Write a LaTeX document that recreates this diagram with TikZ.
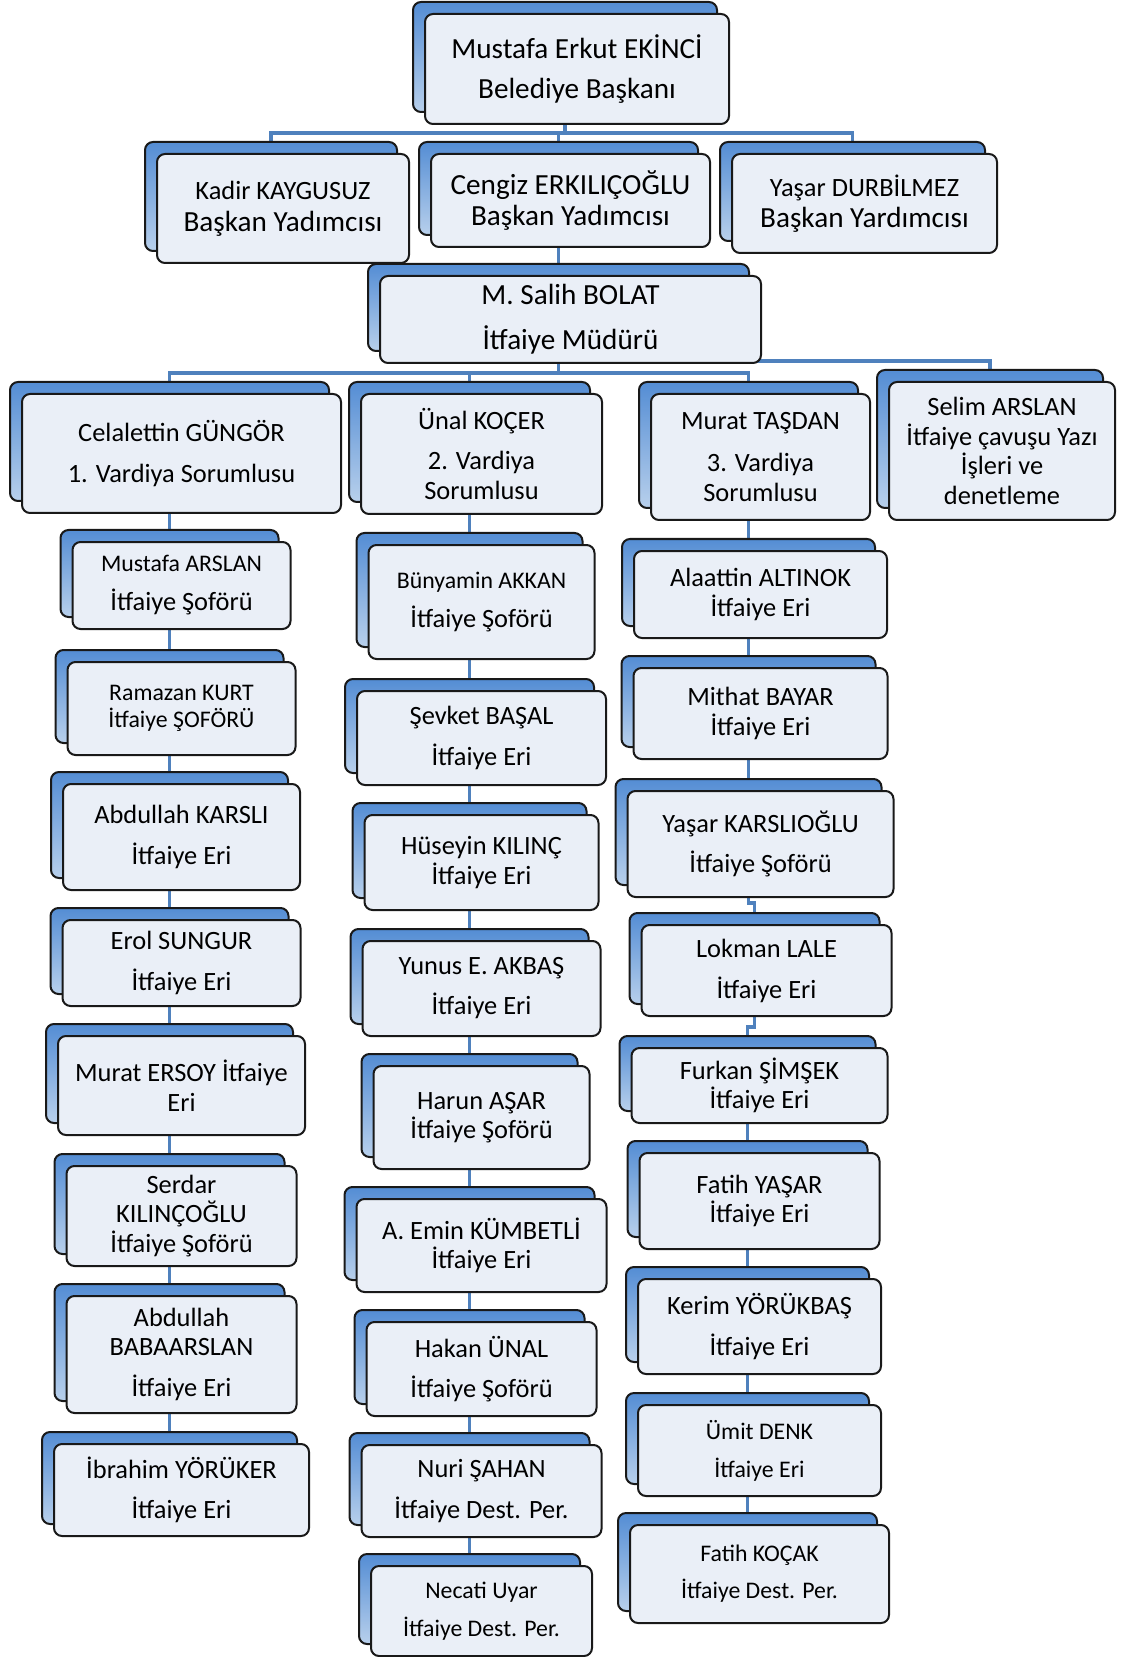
\documentclass[tikz,border=0pt]{standalone}
\usepackage{fontspec}
\setmainfont{Carlito}
\usetikzlibrary{positioning,shadows,backgrounds}
\definecolor{linkblue}{RGB}{79,129,189}
\definecolor{cardfill}{RGB}{234,239,247}
\definecolor{cardedge}{RGB}{25,25,25}
\definecolor{backtop}{RGB}{84,141,212}
\definecolor{backbot}{RGB}{184,208,236}
\newcommand{\fsbig}{\fontsize{14.6}{15.8}\selectfont}
\newcommand{\fsmid}{\fontsize{13.2}{14.8}\selectfont}
\newcommand{\fssmall}{\fontsize{11.9}{13.6}\selectfont}
\tikzset{
	card/.style = {rectangle,rounded corners=4pt,draw=cardedge,line width=1pt,
		fill=cardfill,align=center,inner sep=0pt,outer sep=0pt,font=\fsmid,
		general shadow={shadow xshift=-6pt,shadow yshift=6pt,draw=cardedge,
			line width=1pt,top color=backtop,bottom color=backbot}},
	link/.style = {linkblue,line width=1.75pt},
}

\begin{document}
\begin{tikzpicture}[x=0.5pt,y=-0.5pt]
	\useasboundingbox (0,0) rectangle (1124,1657);
	%% Baskan ve yardimcilar
	\node (mayor)  [card,font=\fsbig,minimum width=152pt,minimum height=55pt] at (577,69)
	{Mustafa Erkut EKİNCİ\\[4.2pt]Belediye Başkanı};
	\node (kadir)  [card,font=\fsbig,minimum width=126pt,minimum height=54.5pt] at (283,208.5)
	{{\fsmid Kadir KAYGUSUZ}\\Başkan Yadımcısı};
	\node (cengiz) [card,font=\fsbig,minimum width=139.5pt,minimum height=46.5pt] at (570.5,200.5)
	{Cengiz ERKILIÇOĞLU\\Başkan Yadımcısı};
	\node (yasard) [card,font=\fsbig,minimum width=132.5pt,minimum height=49.5pt] at (864.5,203.5)
	{{\fsmid Yaşar DURBİLMEZ}\\Başkan Yardımcısı};
	\node (salih)  [card,font=\fsbig,minimum width=190.5pt,minimum height=43.5pt] at (570.5,319.5)
	{M. Salih BOLAT\\[6.7pt]İtfaiye Müdürü};
	
	%% Vardiyalar
	\node (celal) [card,minimum width=159.5pt,minimum height=59.5pt] at (181.5,453.5)
	{Celalettin GÜNGÖR\\[5.7pt]1. Vardiya Sorumlusu};
	\node (unal)  [card,minimum width=120.5pt,minimum height=60pt] at (481.5,454)
	{Ünal KOÇER\\[5.2pt]2. Vardiya\\Sorumlusu};
	\node (murat) [card,minimum width=109.5pt,minimum height=63pt] at (760.5,457)
	{Murat TAŞDAN\\[6pt]3. Vardiya\\Sorumlusu};
	\node (selim) [card,minimum width=113pt,minimum height=69pt] at (1002,451)
	{Selim ARSLAN\\İtfaiye çavuşu Yazı\\İşleri ve\\denetleme};
	
	%% 1. vardiya
	\node (mustafaa)  [card,below=14.5pt of celal,minimum width=109pt,minimum height=43.5pt]
	{{\fssmall Mustafa ARSLAN}\\[4.7pt]İtfaiye Şoförü};
	\node (ramazan)   [card,font=\fssmall,below=16.5pt of mustafaa,minimum width=114pt,minimum height=46.5pt]
	{Ramazan KURT\\İtfaiye ŞOFÖRÜ};
	\node (abdullahk) [card,below=14.5pt of ramazan,minimum width=118.5pt,minimum height=53pt]
	{Abdullah KARSLI\\[5.7pt]İtfaiye Eri};
	\node (erol)      [card,below=15pt of abdullahk,minimum width=119pt,minimum height=43pt]
	{Erol SUNGUR\\[5.7pt]İtfaiye Eri};
	\node (murate)    [card,below=15pt of erol,minimum width=123.5pt,minimum height=49.5pt]
	{Murat ERSOY İtfaiye\\Eri};
	\node (serdar)    [card,below=15.5pt of murate,minimum width=115pt,minimum height=50pt]
	{Serdar\\KILINÇOĞLU\\İtfaiye Şoförü};
	\node (abdullahb) [card,below=15pt of serdar,minimum width=115pt,minimum height=58.5pt]
	{Abdullah\\BABAARSLAN\\[5.7pt]İtfaiye Eri};
	\node (ibrahim)   [card,below=15.5pt of abdullahb,minimum width=127.5pt,minimum height=46pt]
	{İbrahim YÖRÜKER\\[5pt]İtfaiye Eri};
	
	%% 2. vardiya
	\node (bunyamin) [card,below=15.5pt of unal,minimum width=113pt,minimum height=57pt]
	{{\fssmall Bünyamin AKKAN}\\[4.7pt]İtfaiye Şoförü};
	\node (sevket)   [card,below=16pt of bunyamin,minimum width=124.5pt,minimum height=47pt]
	{Şevket BAŞAL\\[5.7pt]İtfaiye Eri};
	\node (huseyin)  [card,below=15pt of sevket,minimum width=117pt,minimum height=47.5pt]
	{Hüseyin KILINÇ\\İtfaiye Eri};
	\node (yunus)    [card,below=15.5pt of huseyin,minimum width=119pt,minimum height=47.5pt]
	{Yunus E. AKBAŞ\\[5.2pt]İtfaiye Eri};
	\node (harun)    [card,below=15pt of yunus,minimum width=108pt,minimum height=51.5pt]
	{Harun AŞAR\\İtfaiye Şoförü};
	\node (emin)     [card,below=15pt of harun,minimum width=125pt,minimum height=46.5pt]
	{A. Emin KÜMBETLİ\\İtfaiye Eri};
	\node (hakan)    [card,below=15pt of emin,minimum width=115pt,minimum height=47pt]
	{Hakan ÜNAL\\[5.2pt]İtfaiye Şoförü};
	\node (nuri)     [card,below=14.5pt of hakan,minimum width=120pt,minimum height=46pt]
	{Nuri ŞAHAN\\[5.7pt]İtfaiye Dest. Per.};
	\node (necati)   [card,font=\fssmall,below=14.5pt of nuri,minimum width=110.5pt,minimum height=45pt]
	{Necati Uyar\\[5.4pt]İtfaiye Dest. Per.};
	
	%% 3. vardiya
	\node (alaattin) [card,below=15.5pt of murat,minimum width=126.5pt,minimum height=43.5pt]
	{Alaattin ALTINOK\\İtfaiye Eri};
	\node (mithat)   [card,below=15pt of alaattin,minimum width=127pt,minimum height=45.5pt]
	{Mithat BAYAR\\İtfaiye Eri};
	\node (yasark)   [card,below=16pt of mithat,minimum width=133pt,minimum height=53pt]
	{Yaşar KARSLIOĞLU\\[5.2pt]İtfaiye Şoförü};
	\node (lokman)   [card,below=14pt of yasark,xshift=3pt,minimum width=125pt,minimum height=45.5pt]
	{Lokman LALE\\[5.7pt]İtfaiye Eri};
	\node (furkan)   [card,below=16pt of lokman,xshift=-3.5pt,minimum width=128pt,minimum height=37.5pt]
	{Furkan ŞİMŞEK\\İtfaiye Eri};
	\node (fatihy)   [card,below=15pt of furkan,minimum width=120pt,minimum height=48pt]
	{Fatih YAŞAR\\İtfaiye Eri};
	\node (kerim)    [card,below=15pt of fatihy,minimum width=121.5pt,minimum height=47.5pt]
	{Kerim YÖRÜKBAŞ\\[5.7pt]İtfaiye Eri};
	\node (umit)     [card,font=\fssmall,below=15.5pt of kerim,minimum width=121.5pt,minimum height=45.5pt]
	{Ümit DENK\\[5.4pt]İtfaiye Eri};
	\node (fatihk)   [card,font=\fssmall,below=14.5pt of umit,minimum width=129.5pt,minimum height=49pt]
	{Fatih KOÇAK\\[5pt]İtfaiye Dest. Per.};
	
	%% Baglantilar
	\begin{scope}[on background layer]
		\draw[link]([xshift=-6pt]mayor.center)--([xshift=-6pt,yshift=-4.5pt]mayor.south) coordinate (topbus);
		\foreach \s in {kadir,cengiz,yasard} \draw[link](topbus)-|([xshift=-6pt]\s.center);
		\draw[link]([xshift=-6pt]cengiz.center)--([xshift=-6pt]salih.center);
		\draw[link]([xshift=-6pt]salih.center)--([xshift=-6pt,yshift=-5pt]salih.south) coordinate (shiftbus);
		\foreach \s in {celal,unal,murat} \draw[link](shiftbus)-|([xshift=-6pt]\s.center);
		\draw[link]([yshift=1pt]salih.south)-|([xshift=-6pt]selim.center);
		\foreach \a/\b in {celal/mustafaa,mustafaa/ramazan,ramazan/abdullahk,abdullahk/erol,
			erol/murate,murate/serdar,serdar/abdullahb,abdullahb/ibrahim,
			unal/bunyamin,bunyamin/sevket,sevket/huseyin,huseyin/yunus,yunus/harun,
			harun/emin,emin/hakan,hakan/nuri,nuri/necati,
			murat/alaattin,alaattin/mithat,mithat/yasark,
			furkan/fatihy,fatihy/kerim,kerim/umit,umit/fatihk}
		\draw[link]([xshift=-6pt]\a.center)--([xshift=-6pt]\b.center);
		\draw[link]([xshift=-6pt]yasark.center)--([xshift=-6pt,yshift=-3pt]yasark.south)-|([xshift=-6pt]lokman.center);
		\draw[link]([xshift=-6pt]lokman.center)--([xshift=-6pt,yshift=-5.5pt]lokman.south)-|([xshift=-6pt]furkan.center);
	\end{scope}
\end{tikzpicture}
\end{document}
